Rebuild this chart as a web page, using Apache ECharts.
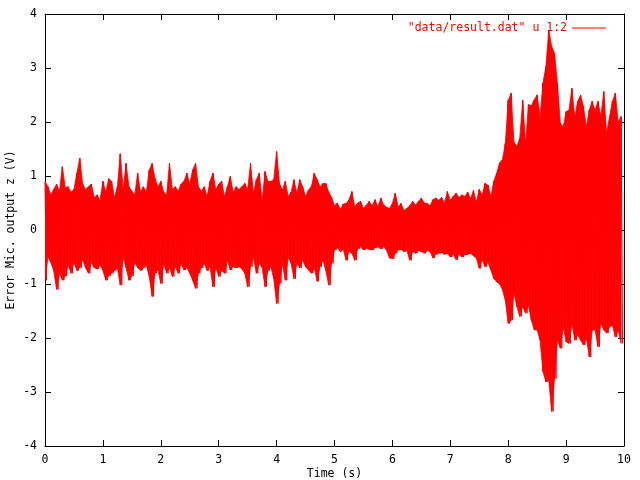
<!DOCTYPE html>
<html>
<head>
<meta charset="utf-8">
<script src="https://cdn.jsdelivr.net/npm/echarts@6/dist/echarts.min.js"></script>
<style>html,body{margin:0;padding:0;background:#fff}#c{width:640px;height:480px}</style>
</head>
<body>
<div id="c"></div>
<script>
// Envelope of the signal: one high and one low value per 0.05 s bin (0..10 s)
const hiValues = [
  0.9,0.8,0.65,0.75,0.85,0.72,1.17,0.78,0.8,0.7,0.75,1.05,1.33,0.85,0.75,0.8,0.85,0.6,0.65,0.55,0.9,0.7,0.95,0.9,0.6,0.8,1.41,0.75,1.23,0.8,0.72,0.65,1.05,0.7,0.8,
  0.7,1.11,1.23,0.95,0.8,0.9,0.7,0.65,1.23,0.75,0.8,0.72,0.85,0.9,1.05,0.85,1.11,1.23,0.8,0.72,0.8,0.62,0.9,1.05,0.75,0.85,0.9,0.62,0.8,0.99,0.7,0.8,0.75,0.8,
  0.86,0.75,1.23,0.68,0.93,1.05,0.55,1.08,0.9,0.9,0.93,1.45,0.86,0.74,0.9,0.62,0.7,0.93,0.68,0.93,0.8,0.62,0.74,0.8,1.05,0.93,0.8,0.86,0.86,0.7,0.6,0.45,0.5,0.38,0.48,
  0.49,0.56,0.71,0.43,0.5,0.53,0.4,0.46,0.53,0.45,0.56,0.43,0.59,0.46,0.42,0.4,0.49,0.68,0.43,0.49,0.36,0.4,0.45,0.53,0.46,0.53,0.59,0.5,0.49,0.45,0.56,0.59,0.55,0.6,
  0.5,0.71,0.55,0.62,0.68,0.6,0.65,0.62,0.7,0.58,0.73,0.52,0.75,0.65,0.86,0.83,0.62,0.9,1.05,1.24,1.3,1.6,2.4,2.53,1.62,1.55,1.7,2.4,1.6,2.32,2.3,
  2.41,2.5,2.1,2.72,3.02,3.70,3.4,3.27,2.72,1.98,1.91,2.19,2.22,2.62,2.1,2.38,2.5,2.28,1.91,2.22,2.38,2.22,2.38,2.1,2.56,1.79,2.1,2.38,2.53,2.0,2.1
];
const loValues = [
  -0.93,-0.5,-0.6,-0.75,-1.1,-0.8,-0.93,-0.85,-0.65,-0.8,-0.6,-0.75,-0.7,-0.55,-0.7,-0.8,-0.6,-0.7,-0.72,-0.65,-0.75,-0.93,-0.85,-0.8,-0.75,-0.7,-1.02,-0.5,-0.7,-0.93,-0.85,-0.6,-0.7,-0.75,-0.7,
  -0.65,-0.86,-1.23,-0.8,-0.74,-0.99,-0.62,-0.8,-0.7,-0.86,-0.68,-0.8,-0.62,-0.74,-0.7,-0.8,-0.93,-1.08,-0.8,-0.7,-0.62,-0.75,-0.68,-1.05,-0.68,-0.86,-0.75,-0.8,-0.56,-0.74,-0.68,-0.7,-0.68,-0.72,
  -0.8,-1.05,-0.68,-0.5,-0.8,-0.62,-0.7,-1.05,-0.75,-0.68,-0.9,-1.36,-0.99,-0.62,-0.93,-0.5,-0.62,-0.9,-0.62,-0.7,-0.56,-0.68,-0.74,-0.8,-0.7,-0.95,-0.68,-0.56,-0.75,-1.02,-0.62,-0.37,-0.33,-0.4,-0.35,
  -0.56,-0.4,-0.43,-0.56,-0.35,-0.31,-0.37,-0.34,-0.36,-0.37,-0.33,-0.31,-0.35,-0.31,-0.38,-0.52,-0.53,-0.43,-0.37,-0.36,-0.4,-0.38,-0.56,-0.4,-0.43,-0.38,-0.4,-0.43,-0.38,-0.4,-0.52,-0.45,-0.43,-0.42,
  -0.45,-0.43,-0.5,-0.45,-0.55,-0.45,-0.5,-0.46,-0.45,-0.43,-0.48,-0.52,-0.71,-0.55,-0.68,-0.6,-0.74,-0.9,-0.96,-1.0,-1.1,-1.3,-1.73,-1.67,-1.17,-1.42,-1.6,-1.42,-1.54,-1.4,-1.67,
  -1.85,-1.85,-2.04,-2.62,-2.81,-2.78,-3.36,-2.75,-2.04,-2.19,-1.79,-2.07,-2.1,-1.73,-2.04,-1.94,-2.04,-2.13,-2.0,-2.35,-1.85,-1.85,-2.16,-1.73,-1.85,-1.91,-1.79,-1.76,-1.98,-1.85,-2.1
];
const timeRange = [0, 10];
const xTicks = [0,1,2,3,4,5,6,7,8,9,10];
const yTicks = [-4,-3,-2,-1,0,1,2,3,4];
const seriesName = '"data/result.dat" u 1:2';

const n = Math.min(hiValues.length, loValues.length);
const step = (timeRange[1] - timeRange[0]) / n;
// one quad per pair of neighbouring bins: [t0, hi0, lo0, t1, hi1, lo1]
const bandData = [];
for (let i = 0; i < n - 1; i++) {
  bandData.push([timeRange[0] + i * step, hiValues[i], loValues[i],
                 timeRange[0] + (i + 1) * step, hiValues[i + 1], loValues[i + 1]]);
}
// edge samples as a zigzag line (hi, lo alternating)
const lineData = [];
for (let i = 0; i < n; i++) {
  lineData.push([timeRange[0] + i * step, hiValues[i]]);
  lineData.push([timeRange[0] + i * step + step / 2, loValues[i]]);
}

const font = 'DejaVu Sans Mono';
const labelStyle = { color: '#000', fontFamily: font, fontSize: 11.5 };
const tickCommon = { show: true, inside: true, length: 6, lineStyle: { color: '#000', width: 1 } };
const lineCommon = { show: true, onZero: false, lineStyle: { color: '#000', width: 1 } };

const chart = echarts.init(document.getElementById('c'), null, { renderer: 'canvas' });
chart.setOption({
  animation: false,
  backgroundColor: '#fff',
  grid: { left: 45, right: 16, top: 14, bottom: 34, containLabel: false, outerBoundsMode: 'none' },
  legend: {
    data: [seriesName],
    right: 29, top: 17,
    align: 'right',
    icon: 'rect',
    itemWidth: 34, itemHeight: 1,
    textStyle: { color: '#ff0000', fontFamily: font, fontSize: 11.5 },
    itemStyle: { color: '#ff0000' }
  },
  xAxis: [
    {
      type: 'value', min: xTicks[0], max: xTicks[xTicks.length - 1], interval: 1,
      position: 'bottom',
      name: 'Time (s)', nameLocation: 'middle', nameGap: 22, nameMoveOverlap: false,
      nameTextStyle: labelStyle,
      axisLine: lineCommon, axisTick: tickCommon,
      axisLabel: Object.assign({ margin: 8 }, labelStyle),
      splitLine: { show: false }
    },
    {
      type: 'value', min: xTicks[0], max: xTicks[xTicks.length - 1], interval: 1,
      position: 'top',
      axisLine: lineCommon, axisTick: tickCommon,
      axisLabel: { show: false }, splitLine: { show: false }
    }
  ],
  yAxis: [
    {
      type: 'value', min: yTicks[0], max: yTicks[yTicks.length - 1], interval: 1,
      position: 'left',
      name: 'Error Mic. output z (V)', nameLocation: 'middle', nameGap: 28, nameRotate: 90, nameMoveOverlap: false,
      nameTextStyle: labelStyle,
      axisLine: lineCommon, axisTick: tickCommon,
      axisLabel: Object.assign({ margin: 8 }, labelStyle),
      splitLine: { show: false }
    },
    {
      type: 'value', min: yTicks[0], max: yTicks[yTicks.length - 1], interval: 1,
      position: 'right',
      axisLine: lineCommon, axisTick: tickCommon,
      axisLabel: { show: false }, splitLine: { show: false }
    }
  ],
  series: [
    {
      name: seriesName,
      type: 'custom',
      xAxisIndex: 0, yAxisIndex: 0,
      data: bandData,
      encode: { x: [0, 3], y: [1, 2, 4, 5] },
      clip: true,
      silent: true,
      renderItem: function (params, api) {
        const a = api.coord([api.value(0), api.value(1)]);
        const b = api.coord([api.value(3), api.value(4)]);
        const c = api.coord([api.value(3), api.value(5)]);
        const d = api.coord([api.value(0), api.value(2)]);
        return {
          type: 'polygon',
          shape: { points: [a, b, c, d] },
          style: { fill: '#ff0000', stroke: '#ff0000', lineWidth: 0.8 }
        };
      },
      itemStyle: { color: '#ff0000' }
    },
    {
      name: seriesName,
      type: 'line',
      xAxisIndex: 0, yAxisIndex: 0,
      data: lineData,
      showSymbol: false, symbol: 'none',
      lineStyle: { color: '#ff0000', width: 1 },
      itemStyle: { color: '#ff0000' },
      emphasis: { disabled: true },
      silent: true
    }
  ]
});
</script>
</body>
</html>
